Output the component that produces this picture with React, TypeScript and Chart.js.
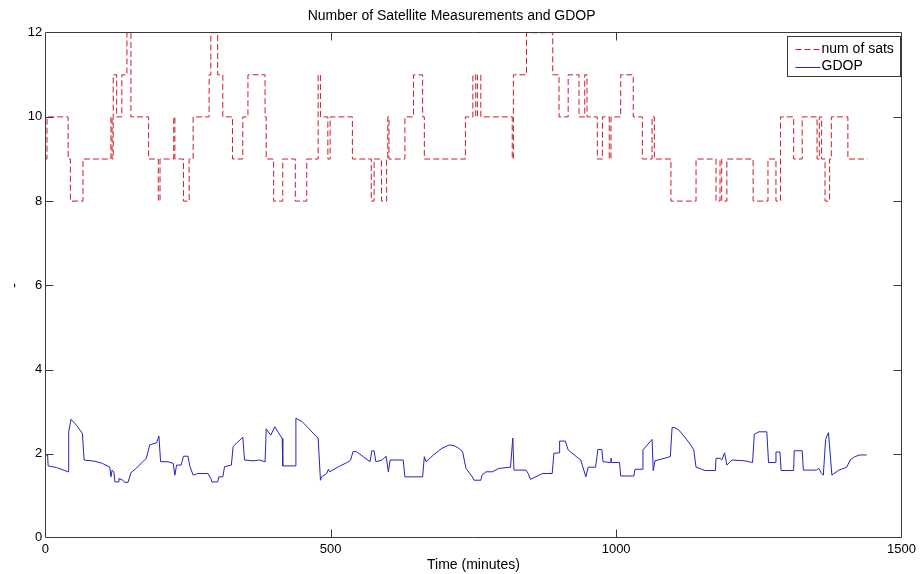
import { useEffect, useRef } from 'react';
import { Chart, registerables } from 'chart.js';

Chart.register(...registerables);

// Number of satellites in view: value holds from each start minute until the next one
const satTimes = [
  0, 3, 40, 44, 66, 115, 117, 119, 125, 134, 143, 150, 181, 198, 201, 225, 227, 242, 252, 259,
  287, 290, 302, 311, 328, 346, 355, 385, 387, 400, 416, 438, 458, 478, 482, 495, 499, 538, 571, 576,
  589, 598, 600, 602, 630, 645, 661, 664, 736, 749, 754, 757, 763, 818, 820, 843, 889, 900, 916, 935,
  945, 949, 967, 976, 988, 991, 1008, 1030, 1046, 1063, 1067, 1096, 1140, 1175, 1182, 1185, 1194, 1240, 1266, 1280,
  1288, 1311, 1326, 1352, 1356, 1360, 1366, 1374, 1377, 1406, 1440,
];
const satCounts = [
  9, 10, 9, 8, 9, 10, 9, 11, 10, 11, 12, 10, 9, 8, 9, 10, 9, 8, 9, 10,
  11, 12, 11, 10, 9, 10, 11, 10, 9, 8, 9, 8, 9, 11, 10, 9, 10, 9, 8, 9,
  8, 9, 10, 9, 10, 11, 10, 9, 10, 11, 10, 11, 10, 9, 11, 12, 11, 10, 11, 10,
  11, 10, 9, 10, 9, 10, 11, 10, 9, 10, 9, 8, 9, 8, 9, 8, 9, 8, 9, 8,
  10, 9, 10, 9, 10, 9, 8, 9, 10, 9, 9,
];

// Geometric dilution of precision over the day
const gdopTimes = [
  0, 4, 5, 20, 40, 41, 45, 55, 65, 68, 87, 100, 113, 115, 117, 120, 122, 128, 129, 136,
  139, 145, 150, 160, 170, 177, 183, 195, 199, 202, 215, 224, 227, 230, 238, 242, 250, 253, 259, 267,
  285, 290, 292, 302, 304, 311, 314, 326, 329, 335, 346, 349, 364, 375, 385, 387, 395, 402, 415, 416,
  438, 439, 450, 460, 474, 478, 482, 484, 493, 496, 498, 515, 530, 535, 539, 545, 569, 572, 576, 579,
  590, 597, 601, 604, 627, 630, 661, 664, 667, 680, 695, 708, 718, 725, 731, 737, 748, 751, 763, 765,
  772, 783, 795, 815, 819, 821, 842, 846, 850, 871, 888, 891, 900, 901, 911, 916, 934, 938, 947, 951,
  964, 968, 975, 977, 990, 991, 992, 1006, 1008, 1031, 1033, 1046, 1047, 1063, 1065, 1068, 1095, 1098, 1103, 1110,
  1120, 1130, 1136, 1140, 1150, 1156, 1174, 1175, 1182, 1185, 1190, 1194, 1203, 1226, 1239, 1242, 1250, 1264, 1267, 1279,
  1280, 1287, 1289, 1311, 1312, 1326, 1328, 1351, 1355, 1359, 1363, 1367, 1372, 1378, 1390, 1404, 1410, 1418, 1427, 1439,
];
const gdopValues = [
  1.97, 1.97, 1.71, 1.67, 1.57, 2.52, 2.82, 2.67, 2.48, 1.85, 1.82, 1.77, 1.68, 1.45, 1.61, 1.57, 1.33, 1.33, 1.41, 1.37,
  1.32, 1.32, 1.55, 1.66, 1.8, 1.89, 2.21, 2.26, 2.42, 1.81, 1.81, 1.77, 1.49, 1.73, 1.73, 1.94, 1.94, 1.71, 1.49, 1.53,
  1.53, 1.41, 1.33, 1.33, 1.45, 1.45, 1.69, 1.73, 2.17, 2.25, 2.39, 1.85, 1.83, 1.85, 1.81, 2.59, 2.44, 2.64, 2.36, 1.71,
  1.71, 2.84, 2.76, 2.62, 2.42, 2.37, 1.37, 1.45, 1.53, 1.63, 1.57, 1.7, 1.8, 1.85, 2.05, 2.05, 1.81, 2.07, 2.07, 1.81,
  1.85, 1.94, 1.57, 1.85, 1.85, 1.45, 1.45, 1.93, 1.81, 1.97, 2.13, 2.21, 2.18, 2.12, 2.05, 1.65, 1.45, 1.37, 1.37, 1.49,
  1.57, 1.57, 1.65, 1.68, 2.37, 1.61, 1.61, 1.53, 1.39, 1.53, 1.53, 2.01, 2.02, 2.3, 2.3, 2.09, 1.89, 1.85, 1.45, 1.68,
  1.68, 2.1, 2.1, 1.81, 1.79, 1.89, 1.79, 1.79, 1.47, 1.47, 1.63, 1.63, 2.09, 2.34, 1.6, 1.83, 1.93, 2.62, 2.62, 2.56,
  2.4, 2.22, 2.09, 1.68, 1.63, 1.6, 1.6, 1.89, 1.89, 1.85, 2.02, 1.73, 1.85, 1.83, 1.79, 2.46, 2.52, 2.52, 1.79, 1.79,
  2.04, 2.04, 1.6, 1.6, 2.07, 2.07, 1.61, 1.61, 1.65, 1.55, 1.49, 2.34, 2.5, 1.49, 1.61, 1.68, 1.85, 1.93, 1.97, 1.97,
];

const titleText = 'Number of Satellite Measurements and GDOP';
const xLabel = 'Time (minutes)';
const yLabel = '-';
const seriesNames = ['num of sats', 'GDOP'];

const RED = 'rgb(200, 30, 42)';
const BLUE = 'rgb(36, 36, 190)';
const AXIS = '#3a3a3a';
const FONT = "'Liberation Sans', Arial, sans-serif";

// Boxed axes with inward ticks on all four sides, plus a boxed legend
const framePlugin = {
  id: 'frame',
  afterDatasetsDraw(chart: any) {
    const { ctx, chartArea, scales } = chart;
    const L = Math.round(chartArea.left) + 0.5;
    const R = Math.round(chartArea.right) - 0.5;
    const T = Math.floor(chartArea.top) + 0.5;
    const B = Math.round(chartArea.bottom) - 0.5;
    const tick = 8;
    ctx.save();
    ctx.strokeStyle = AXIS;
    ctx.lineWidth = 1;
    ctx.setLineDash([]);
    ctx.beginPath();
    ctx.rect(L, T, R - L, B - T);
    for (const t of scales.x.ticks) {
      const px = Math.round(scales.x.getPixelForValue(t.value)) + 0.5;
      if (px <= L + 1 || px >= R - 1) continue;
      ctx.moveTo(px, B);
      ctx.lineTo(px, B - tick);
      ctx.moveTo(px, T);
      ctx.lineTo(px, T + tick);
    }
    for (const t of scales.y.ticks) {
      const py = Math.round(scales.y.getPixelForValue(t.value)) + 0.5;
      if (py <= T + 1 || py >= B - 1) continue;
      ctx.moveTo(L, py);
      ctx.lineTo(L + tick, py);
      ctx.moveTo(R, py);
      ctx.lineTo(R - tick, py);
    }
    ctx.stroke();

    // legend box in the upper right corner
    const bx = 787.5, by = 36.5, bw = 113, bh = 40;
    ctx.fillStyle = '#ffffff';
    ctx.fillRect(bx, by, bw, bh);
    ctx.strokeStyle = AXIS;
    ctx.strokeRect(bx, by, bw, bh);
    const rows = [by + 12.5, by + 30];
    chart.data.datasets.forEach((ds: any, i: number) => {
      const y = Math.round(rows[i]) + 0.5;
      ctx.strokeStyle = ds.borderColor;
      ctx.setLineDash(ds.borderDash || []);
      ctx.beginPath();
      ctx.moveTo(bx + 8, y);
      ctx.lineTo(bx + 33, y);
      ctx.stroke();
      ctx.setLineDash([]);
      ctx.fillStyle = '#000';
      ctx.font = `14px ${FONT}`;
      ctx.textBaseline = 'middle';
      ctx.textAlign = 'left';
      ctx.fillText(ds.label, bx + 34, rows[i]);
    });
    ctx.restore();
  },
};

export default function App() {
  const canvasRef = useRef<HTMLCanvasElement | null>(null);

  useEffect(() => {
    const canvas = canvasRef.current;
    if (!canvas) return;
    const chart = new Chart(canvas, {
      type: 'line',
      data: {
        datasets: [
          {
            label: seriesNames[0],
            data: satTimes.map((t, i) => ({ x: t, y: satCounts[i] })),
            borderColor: RED,
            borderWidth: 1,
            borderDash: [6, 3],
            stepped: 'before',
            pointRadius: 0,
            fill: false,
          },
          {
            label: seriesNames[1],
            data: gdopTimes.map((t, i) => ({ x: t, y: gdopValues[i] })),
            borderColor: BLUE,
            borderWidth: 1,
            tension: 0,
            pointRadius: 0,
            fill: false,
          },
        ],
      },
      options: {
        animation: false,
        responsive: false,
        events: [],
        layout: { padding: { left: 0, right: 16.7, top: 0, bottom: 0 } },
        plugins: {
          legend: { display: false },
          tooltip: { enabled: false },
          title: {
            display: true,
            text: titleText,
            color: '#000',
            font: { family: FONT, size: 14, weight: 'normal' },
            padding: { top: 7.8, bottom: 8.1 },
          },
        },
        scales: {
          x: {
            type: 'linear',
            min: 0,
            max: 1500,
            ticks: {
              stepSize: 500,
              color: '#000',
              font: { family: FONT, size: 13 },
              padding: 4,
              maxRotation: 0,
              callback: (v: any) => String(v),
            },
            grid: { display: false, drawTicks: false },
            border: { display: false },
            title: {
              display: true,
              text: xLabel,
              color: '#000',
              font: { family: FONT, size: 14 },
              padding: { top: 0, bottom: 0 },
            },
            afterFit: (scale: any) => {
              scale.height = 36.1;
            },
          },
          y: {
            type: 'linear',
            min: 0,
            max: 12,
            ticks: {
              stepSize: 2,
              color: '#000',
              font: { family: FONT, size: 13 },
              padding: 3,
              callback: (v: any) => String(v),
            },
            grid: { display: false, drawTicks: false },
            border: { display: false },
            title: {
              display: true,
              text: yLabel,
              color: '#000',
              font: { family: FONT, size: 14 },
              padding: { top: 7, bottom: 0 },
            },
            afterFit: (scale: any) => {
              scale.width = 45.3;
            },
          },
        },
      },
      plugins: [framePlugin],
    });
    return () => chart.destroy();
  }, []);

  return (
    <div style={{ position: 'fixed', left: 0, top: 0, width: 920, height: 574, background: '#fff' }}>
      <canvas ref={canvasRef} width={920} height={574} />
    </div>
  );
}
